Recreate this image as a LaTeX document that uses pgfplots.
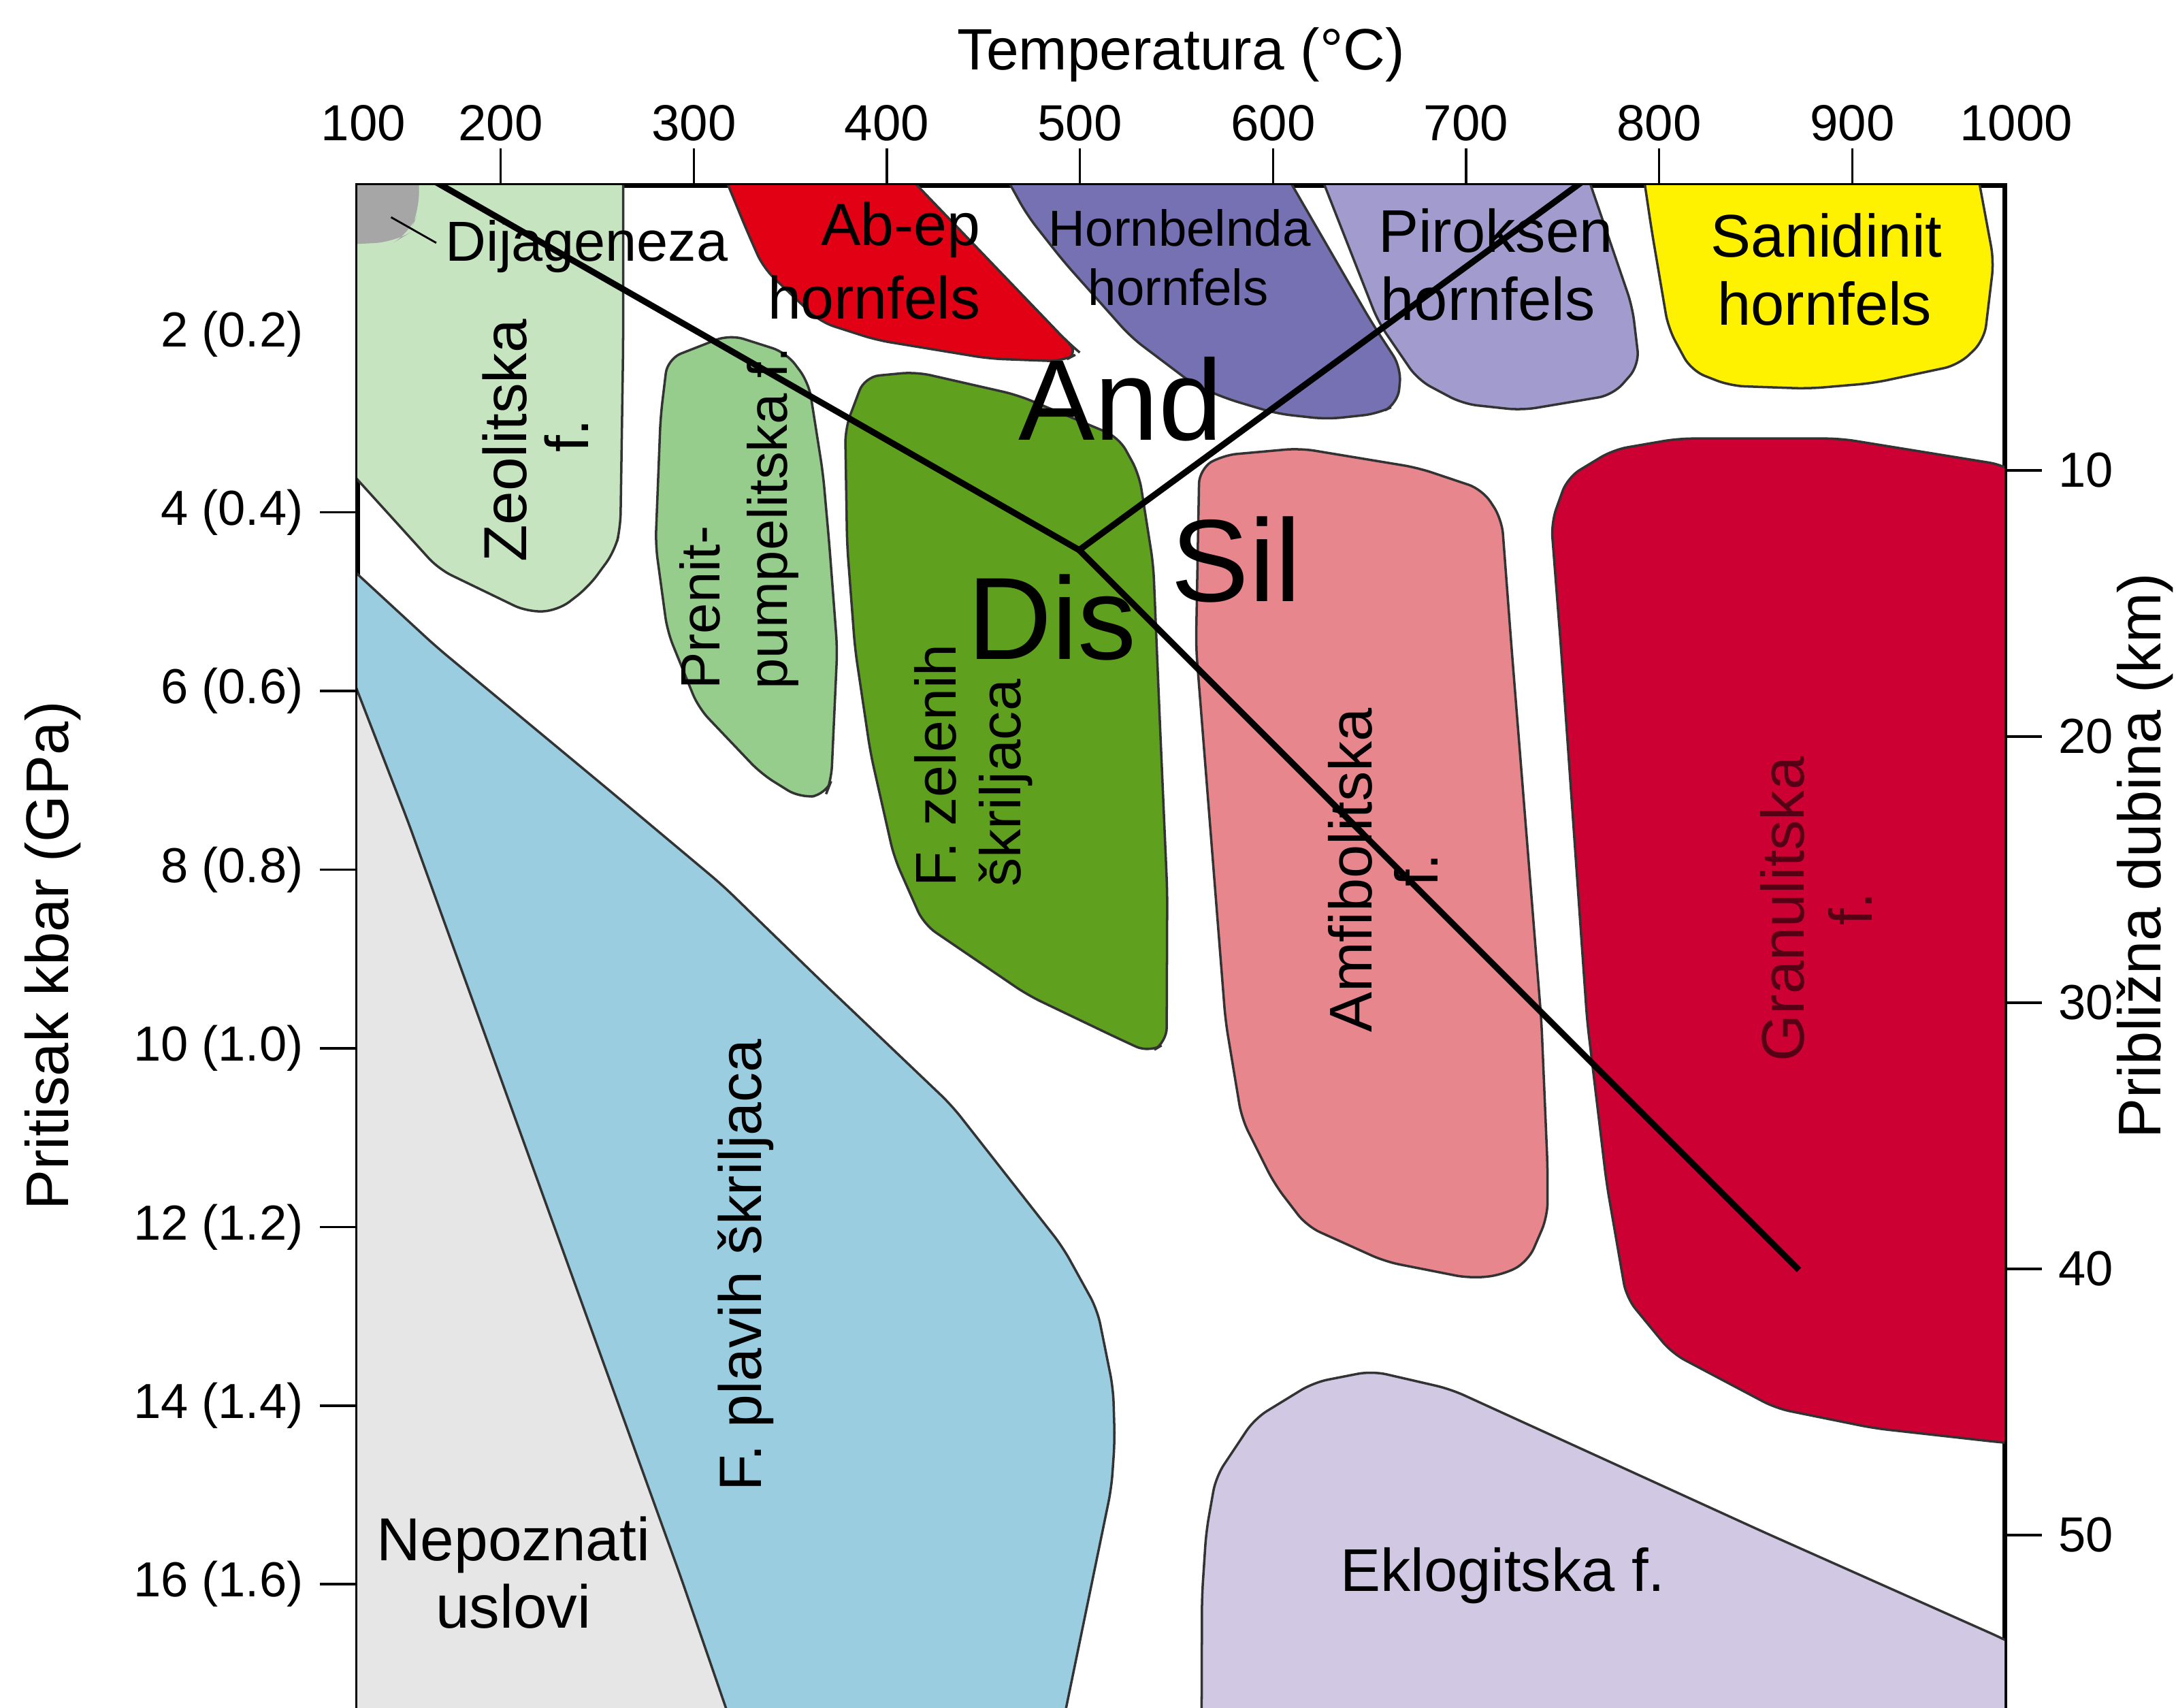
\documentclass[border=0pt]{standalone}
\usepackage{fontspec}
\setmainfont{Liberation Sans}
\usepackage{pgfplots}
\pgfplotsset{compat=1.18}
\definecolor{cDij}{RGB}{166,166,166}
\definecolor{cZeo}{RGB}{199,228,193}
\definecolor{cPre}{RGB}{150,205,140}
\definecolor{cGrn}{RGB}{95,160,30}
\definecolor{cAbe}{RGB}{225,0,20}
\definecolor{cHbl}{RGB}{118,113,178}
\definecolor{cPyx}{RGB}{162,156,206}
\definecolor{cSan}{RGB}{255,242,0}
\definecolor{cGra}{RGB}{204,0,51}
\definecolor{cAmf}{RGB}{232,134,142}
\definecolor{cEkl}{RGB}{209,200,228}
\definecolor{cBlu}{RGB}{155,205,225}
\definecolor{cNep}{RGB}{230,230,230}
\definecolor{cGraTxt}{RGB}{85,0,20}
\newcommand{\fs}[1]{\fontsize{#1}{#1}\selectfont}
\tikzset{reg/.style={draw=black!80, line width=0.5pt, rounded corners=3pt},
         txt/.style={inner sep=0pt}}
\begin{document}
\begin{tikzpicture}
\begin{axis}[
  at={(0,0)}, anchor=south west, scale only axis,
  width=12.112cm, height=11.594cm,
  xmin=125.74, xmax=978.9, ymin=0.343, ymax=18, y dir=reverse,
  clip=true,
  axis line style={line width=1pt},
  tick align=outside, major tick length=7.8pt,
  tick style={line width=0.5pt, black},
  tick label style={font=\fs{10.3}},
  xticklabel style={font=\fs{10.6}, yshift=-2pt},
  xtick={200,300,...,900}, xticklabels={200,300,400,500,600,700,800,900},
  xtick pos=top, xticklabel pos=top,
  extra x ticks={128.9,978.9}, extra x tick labels={100,\hspace*{4.8pt}1000},
  extra x tick style={tick style={draw=none}},
  ytick={4,6,...,16},
  yticklabels={4 (0.4),6 (0.6),8 (0.8),10 (1.0),12 (1.2),14 (1.4),16 (1.6)},
  ytick pos=left,
  extra y ticks={2}, extra y tick labels={2 (0.2)},
  extra y tick style={tick style={draw=none}},
]
% Nepoznati uslovi
\addplot[reg, fill=cNep, line width=0.3pt] coordinates {(110,5.119) (126.1,6.017) (152.0,7.462) (293.2,15.916) (316.5,17.377) (329.6,18.2) (110,18.2)} -- cycle;
% F. plavih skriljaca
\addplot[reg, fill=cBlu] coordinates {(110,4.376) (126.1,4.697) (166.6,5.504) (257.9,7.142) (314.7,8.171) (365.1,9.228) (433.5,10.637) (491.0,12.222) (509.0,12.926) (517.2,13.807) (518.0,14.393) (516.3,14.922) (492.9,17.377) (485.1,18.2) (329.6,18.2) (316.5,17.377) (293.2,15.916) (152.0,7.462) (126.1,6.017) (110,5.119)} -- cycle;
% Zeolitska
\addplot[reg, fill=cZeo] coordinates {(110,0.1) (263.4,0.1) (263.4,2.148) (262.0,4.168) (259.1,4.432) (245.4,4.836) (229.6,5.10) (213.8,5.115) (167.8,4.634) (126.1,3.640) (110,3.256)} -- cycle;
% Dijageneza
\addplot[fill=cDij, draw=none, rounded corners=4pt] coordinates {(110,0.1) (157.7,0.1) (157.7,0.625) (152.7,0.873) (145.5,0.967) (126.1,0.998) (110,0.998)} -- cycle;
% Prenit-pumpelitska
\addplot[reg, fill=cPre] coordinates {(318.6,2.008) (347.9,2.210) (359.5,2.545) (366.9,3.562) (370.2,4.361) (374.3,5.526) (371.2,7.004) (368.4,7.159) (355.1,7.198) (334.9,6.926) (302.4,6.188) (286.3,5.332) (280.2,4.361) (282.8,2.925) (286.4,2.280)} -- cycle;
% F. zelenih skriljaca
\addplot[reg, fill=cGrn] coordinates {(388.5,2.482) (415.1,2.427) (467.6,2.685) (520.1,3.158) (530.6,3.570) (538.0,4.587) (541.3,6.303) (545.2,8.239) (544.9,9.933) (535.9,10.050) (518.0,9.871) (473.0,9.405) (419.1,8.612) (403.7,7.859) (391.5,6.692) (383.5,5.526) (379.4,4.361) (378.4,3.060)} -- cycle;
% Ab-ep hornfels
\addplot[reg, fill=cAbe] coordinates {(313.3,0.1) (405.1,0.1) (494.2,2.107) (499.9,2.210) (491.0,2.309) (453.0,2.278) (394.6,2.070) (365.5,1.868) (336.0,1.262) (327.4,0.842)} -- cycle;
% Hornblenda hornfels
\addplot[reg, fill=cHbl] coordinates {(458.0,0.1) (603.6,0.1) (650.9,1.867) (666.4,2.381) (664.6,2.785) (654.5,2.894) (627.9,2.956) (602.0,2.894) (575.4,2.723) (558.9,2.567) (526.5,2.039) (491.3,1.184) (472.6,0.671)} -- cycle;
% Piroksen hornfels
\addplot[reg, fill=cPyx] coordinates {(622.4,0.1) (760.8,0.1) (786.1,1.697) (789.7,2.350) (776.1,2.685) (728.9,2.856) (698.4,2.785) (675.0,2.516) (654.5,1.868)} -- cycle;
% Sanidinit hornfels
\addplot[reg, fill=cSan] coordinates {(791.0,0.1) (964.0,0.1) (973.3,1.184) (968.4,2.070) (955.0,2.350) (910.9,2.552) (877.4,2.614) (836.8,2.583) (816.6,2.412) (804.7,1.938) (796.1,0.842)} -- cycle;
% Amfibolitska
\addplot[reg, fill=cAmf] coordinates {(614.0,3.282) (573.7,3.360) (561.8,3.515) (560.1,5.504) (575.4,9.695) (583.8,10.788) (600.7,11.518) (617.5,11.992) (658.1,12.388) (701.9,12.575) (718.8,12.539) (732.1,12.388) (742.2,11.883) (742.2,11.332) (739.0,9.695) (723.5,5.504) (718.5,4.075) (708.4,3.742) (675.0,3.500)} -- cycle;
% Granulitska
\addplot[reg, fill=cGra] coordinates {(809.8,3.173) (893.9,3.173) (978.5,3.469) (995,3.70) (995,14.44) (978.6,14.416) (911.2,14.253) (860.5,14.031) (806.6,13.414) (783.0,12.793) (772.8,11.518) (762.7,9.695) (749.1,5.504) (744.1,4.115) (752.5,3.608) (776.2,3.298)} -- cycle;
% Eklogitska
\addplot[reg, fill=cEkl] coordinates {(562.9,18.2) (563.2,16.134) (565.4,15.411) (570.4,14.797) (590.5,14.145) (621.0,13.741) (651.3,13.613) (691.9,13.815) (853.6,15.411) (978.6,16.615) (995,16.8) (995,18.2)} -- cycle;
% leader line
\addplot[black, line width=0.4pt] coordinates {(143.2,0.695) (166.6,0.982)};
% Al2SiO5 phase boundaries
\addplot[black, line width=1.3pt, line join=miter] coordinates {(158.2,0.2) (499.6,4.421) (766.3,0.2)};
\addplot[black, line width=1.3pt] coordinates {(499.6,4.421) (872.4,12.482)};
% labels
\node[txt, anchor=base west, font=\fs{11.8}] at (axis cs:171.0,1.189) {Dijageneza};
\node[txt, anchor=base east, font=\fs{12.5}] at (axis cs:448.9,1.013) {Ab-ep};
\node[txt, anchor=base east, font=\fs{12.5}] at (axis cs:448.9,1.837) {hornfels};
\node[txt, anchor=base, font=\fs{10.6}] at (axis cs:551.7,1.018) {Hornbelnda};
\node[txt, anchor=base, font=\fs{10.6}] at (axis cs:551.0,1.681) {hornfels};
\node[txt, anchor=base, font=\fs{12.6}] at (axis cs:715.3,1.086) {Piroksen};
\node[txt, anchor=base, font=\fs{12.6}] at (axis cs:711.3,1.852) {hornfels};
\node[txt, anchor=base, font=\fs{12.6}] at (axis cs:886.7,1.138) {Sanidinit};
\node[txt, anchor=base, font=\fs{12.6}] at (axis cs:885.7,1.904) {hornfels};
\node[txt, rotate=90, anchor=base, font=\fs{12.7}] at (axis cs:213.4,3.197) {Zeolitska};
\node[txt, rotate=90, anchor=base, font=\fs{12.7}] at (axis cs:245.4,3.142) {f.};
\node[txt, rotate=90, anchor=base west, font=\fs{11.6}] at (axis cs:313.6,5.992) {Prenit-};
\node[txt, rotate=90, anchor=base west, font=\fs{11.6}] at (axis cs:348.2,5.992) {pumpelitska f.};
\node[txt, rotate=90, anchor=base west, font=\fs{12}] at (axis cs:435.9,8.20) {F. zelenih};
\node[txt, rotate=90, anchor=base west, font=\fs{12}] at (axis cs:469.4,8.20) {škriljaca};
\node[txt, rotate=90, anchor=base, font=\fs{12.6}] at (axis cs:651.3,8.006) {Amfibolitska};
\node[txt, rotate=90, anchor=base, font=\fs{12.6}] at (axis cs:685.4,8.006) {f.};
\node[txt, rotate=90, anchor=base, font=\fs{12.6}, text=cGraTxt] at (axis cs:875.0,8.44) {Granulitska};
\node[txt, rotate=90, anchor=base, font=\fs{12.6}, text=cGraTxt] at (axis cs:910.2,8.44) {f.};
\node[txt, rotate=90, anchor=base, font=\fs{12.5}] at (axis cs:334.9,12.427) {F. plavih škriljaca};
\node[txt, anchor=base, font=\fs{12.7}] at (axis cs:206.6,15.739) {Nepoznati};
\node[txt, anchor=base, font=\fs{12.7}] at (axis cs:206.6,16.49) {uslovi};
\node[txt, anchor=base, font=\fs{12.6}] at (axis cs:719.0,16.081) {Eklogitska f.};
\node[txt, anchor=base west, font=\fs{24}] at (axis cs:467.6,3.193) {And};
\node[txt, anchor=base west, font=\fs{24.5}] at (axis cs:441.1,5.644) {Dis};
\node[txt, anchor=base west, font=\fs{24.5}] at (axis cs:546.7,5.0) {Sil};
\end{axis}
\begin{axis}[
  at={(0,0)}, anchor=south west, scale only axis,
  width=12.112cm, height=11.594cm,
  xmin=125.74, xmax=978.9, ymin=-0.69, ymax=58.557, y dir=reverse,
  hide x axis, axis line style={draw=none},
  tick align=outside, major tick length=7.8pt,
  tick style={line width=0.5pt, black},
  tick label style={font=\fs{10.3}},
  ytick={10,20,30,40,50}, yticklabels={10,20,30,40,50},
  ytick pos=right, yticklabel pos=right,
]
\end{axis}
% axis titles
\node[inner sep=0pt, anchor=base, font=\fs{12.2}] at (6.056cm,12.4445cm) {Temperatura (°C)};
\node[inner sep=0pt, anchor=base, rotate=90, font=\fs{12.6}] at (-2.124cm,5.933cm) {Pritisak kbar (GPa)};
\node[inner sep=0pt, anchor=base, rotate=90, font=\fs{12.6}] at (13.261cm,6.669cm) {Približna dubina (km)};
\pgfresetboundingbox
\path[use as bounding box] (-2.6276cm,0.408cm) rectangle (13.3724cm,12.960cm);
\end{tikzpicture}
\end{document}
